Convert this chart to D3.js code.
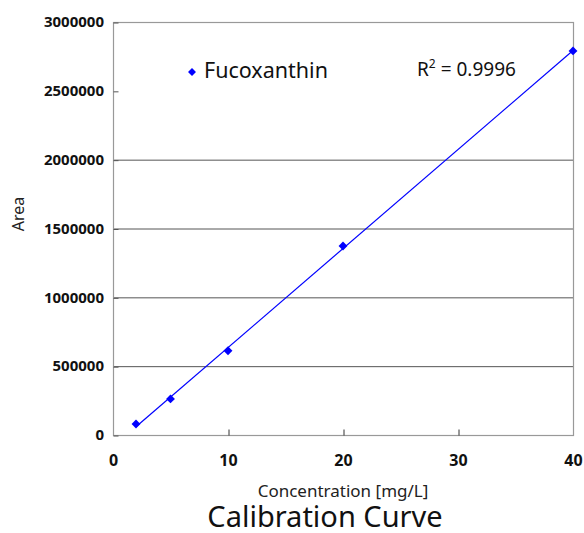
<!DOCTYPE html>
<html>
<head>
<meta charset="utf-8">
<script src="https://cdn.jsdelivr.net/npm/d3@7"></script>
<style>
  body { margin: 0; background: #fff; }
  svg { font-family: "Noto Sans", sans-serif; }
</style>
</head>
<body>
<svg id="chart" width="584" height="533"></svg>
<script>
// --- Data ---
const concentration = [2, 5, 10, 20, 40];
const area = [80000, 262000, 612000, 1373000, 2790000];
const xTicks = [0, 10, 20, 30, 40];
const yTicks = [0, 500000, 1000000, 1500000, 2000000, 2500000, 3000000];
const gridLevels = [500000, 1000000, 1500000, 2000000];
const seriesName = "Fucoxanthin";
const rSquared = "0.9996";

const width = 584, height = 533;
const margin = { top: 22, right: 11, bottom: 98, left: 113 };
const chartWidth = width - margin.left - margin.right;
const chartHeight = height - margin.top - margin.bottom;

const svg = d3.select("#chart");
const g = svg.append("g").attr("transform", `translate(${margin.left},${margin.top})`);

// --- Scales ---
const x = d3.scaleLinear().domain([0, 40]).range([0, chartWidth]);
const y = d3.scaleLinear().domain([0, 3000000]).range([chartHeight, 0]);

// --- Gridlines ---
g.selectAll(".grid")
    .data(gridLevels)
    .join("line")
    .attr("x1", 0)
    .attr("x2", chartWidth)
    .attr("y1", d => y(d) + 0.5)
    .attr("y2", d => y(d) + 0.5)
    .attr("stroke", "#555")
    .attr("stroke-width", 1);

// --- Frame ---
g.append("rect")
    .attr("x", 0.5)
    .attr("y", 0.5)
    .attr("width", chartWidth)
    .attr("height", chartHeight)
    .attr("fill", "none")
    .attr("stroke", "#999")
    .attr("stroke-width", 1.2);

// --- Y axis (inward ticks) ---
const yAxis = g.append("g")
    .call(d3.axisLeft(y).tickValues(yTicks).tickSize(-5).tickPadding(9).tickFormat(d3.format("d")));
yAxis.select(".domain").remove();
yAxis.selectAll(".tick line").attr("stroke", "#555").attr("transform", "translate(0.5,0.5)");
yAxis.selectAll(".tick text")
    .style("font-family", "Noto Sans")
    .style("font-size", "15px")
    .style("font-weight", "bold")
    .attr("fill", "#111");

// --- X axis (inward ticks) ---
const xAxis = g.append("g")
    .attr("transform", `translate(0,${chartHeight})`)
    .call(d3.axisBottom(x).tickValues(xTicks).tickSize(-6).tickPadding(0));
xAxis.select(".domain").remove();
xAxis.selectAll(".tick line")
    .attr("stroke", (d, i) => (i === 0 || i === xTicks.length - 1) ? "none" : "#333")
    .attr("transform", "translate(0.5,0.5)");
xAxis.selectAll(".tick text")
    .attr("y", 20)
    .attr("dy", "0.71em")
    .style("font-family", "Noto Sans")
    .style("font-size", "16px")
    .style("font-weight", "bold")
    .attr("fill", "#111");

// --- Regression line ---
const pts = concentration.map((c, i) => ({ c, a: area[i] }));
const mx = d3.mean(pts, d => d.c), my = d3.mean(pts, d => d.a);
const slope = d3.sum(pts, d => (d.c - mx) * (d.a - my)) / d3.sum(pts, d => (d.c - mx) ** 2);
const intercept = my - slope * mx;
const xExt = d3.extent(concentration);

g.append("line")
    .attr("x1", x(xExt[0]))
    .attr("y1", y(slope * xExt[0] + intercept))
    .attr("x2", x(xExt[1]))
    .attr("y2", y(slope * xExt[1] + intercept))
    .attr("stroke", "#0000ff")
    .attr("stroke-width", 1.2);

// --- Points ---
const diamond = d3.symbol().type(d3.symbolDiamond2).size(50);
g.selectAll(".pt")
    .data(pts)
    .join("path")
    .attr("d", diamond)
    .attr("transform", d => `translate(${x(d.c)},${y(d.a)})`)
    .attr("fill", "#0000ff");

// --- Legend ---
svg.append("path")
    .attr("d", d3.symbol().type(d3.symbolDiamond2).size(40))
    .attr("transform", "translate(192,72)")
    .attr("fill", "#0000ff");
svg.append("text")
    .attr("x", 204)
    .attr("y", 78)
    .style("font-size", "21.5px")
    .attr("fill", "#111")
    .text(seriesName);

// --- R squared ---
const rText = svg.append("text")
    .attr("x", 417)
    .attr("y", 76)
    .style("font-size", "19px")
    .attr("fill", "#111");
rText.append("tspan").text("R");
rText.append("tspan").attr("dy", -8).style("font-size", "12px").text("2");
rText.append("tspan").attr("dy", 8).text(" = " + rSquared);

// --- Axis titles ---
svg.append("text")
    .attr("x", margin.left + chartWidth / 2)
    .attr("y", 497)
    .attr("text-anchor", "middle")
    .style("font-size", "17px")
    .attr("fill", "#222")
    .text("Concentration [mg/L]");

svg.append("text")
    .attr("transform", "translate(24,214) rotate(-90)")
    .attr("text-anchor", "middle")
    .style("font-size", "16px")
    .attr("fill", "#222")
    .text("Area");

svg.append("text")
    .attr("x", 325)
    .attr("y", 527)
    .attr("text-anchor", "middle")
    .style("font-size", "29px")
    .attr("fill", "#111")
    .text("Calibration Curve");
</script>
</body>
</html>
